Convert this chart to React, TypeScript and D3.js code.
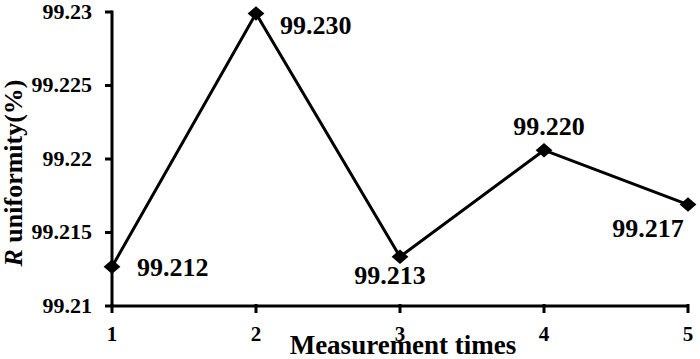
import React from "react";
import * as d3 from "d3";

const categories = [1, 2, 3, 4, 5];
const values = [99.21267, 99.2299, 99.21335, 99.2206, 99.2169];
const labels = ["99.212", "99.230", "99.213", "99.220", "99.217"];
const yTicks = [99.21, 99.215, 99.22, 99.225, 99.23];
const yTickLabels = ["99.21", "99.215", "99.22", "99.225", "99.23"];
// label offsets relative to point: [dx, dy, anchor]
const labelPos: [number, number, string][] = [
  [25, 9.5, "start"],
  [24, 21, "start"],
  [-10, 27, "middle"],
  [5, -15, "middle"],
  [-40, 32, "middle"],
];

export default function App() {
  const W = 700, H = 359;
  const x = d3.scaleLinear().domain([1, 5]).range([112, 688]);
  const y = d3.scaleLinear().domain([99.21, 99.23]).range([306, 12]);
  const line = d3.line<number>().x((_, i) => x(categories[i])).y((d) => y(d));
  const font = "'Liberation Serif', 'Times New Roman', serif";
  const diamond = d3.symbol().type(d3.symbolDiamond2).size(135)();
  return (
    <svg width={W} height={H} style={{ position: "absolute", left: 0, top: 0, background: "#fff", fontFamily: font, fontWeight: "bold" }}>
      <line x1={x(1)} x2={x(5)} y1={306} y2={306} stroke="#000" strokeWidth={3} />
      <line x1={112} x2={112} y1={y(99.23) - 1.5} y2={306} stroke="#000" strokeWidth={3} />
      {yTicks.map((t, i) => (
        <g key={t}>
          <line x1={105} x2={112} y1={y(t)} y2={y(t)} stroke="#000" strokeWidth={3} />
          <text x={92} y={y(t) + 6.5} textAnchor="end" fontSize={22}>{yTickLabels[i]}</text>
        </g>
      ))}
      {categories.map((c) => (
        <g key={c}>
          <line x1={x(c)} x2={x(c)} y1={304} y2={313} stroke="#000" strokeWidth={3} />
          <text x={x(c)} y={341} textAnchor="middle" fontSize={21}>{c}</text>
        </g>
      ))}
      <text x={403} y={354} textAnchor="middle" fontSize={27}>Measurement times</text>
      <text transform="translate(22,173) rotate(-90)" textAnchor="middle" fontSize={26}>
        <tspan fontStyle="italic">R</tspan> uniformity(%)
      </text>
      <path d={line(values) || ""} fill="none" stroke="#000" strokeWidth={3} />
      {values.map((v, i) => (
        <path key={i} d={diamond || ""} transform={`translate(${x(categories[i])},${y(v)}) scale(1.15,1)`} fill="#000" />
      ))}
      {values.map((v, i) => (
        <text key={"l" + i} x={x(categories[i]) + labelPos[i][0]} y={y(v) + labelPos[i][1]} textAnchor={labelPos[i][2]} fontSize={26}>
          {labels[i]}
        </text>
      ))}
    </svg>
  );
}
